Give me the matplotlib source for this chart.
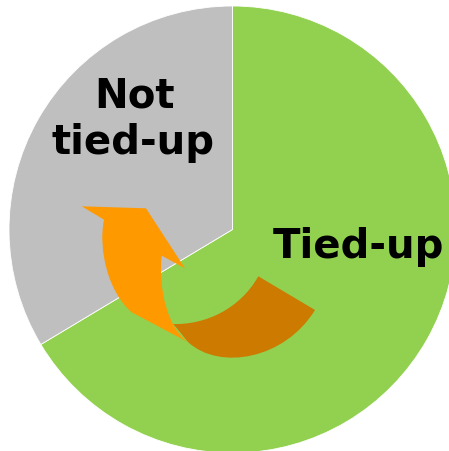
import matplotlib
matplotlib.use('Agg')
import matplotlib.pyplot as plt
from matplotlib.path import Path
from matplotlib.patches import PathPatch

# data
labels = ['Tied-up', 'Not tied-up']
shares = [66.4, 33.6]
colors = ['#92D050', '#BFBFBF']

W, H = 449, 452
cx, cy, r = 232.5, 230.5, 223.5   # pie centre / radius in pixels (y from top)


def px(x, y):
    # pixel coords (y down) -> data coords (y up)
    return (x, H - y)


fig = plt.figure(figsize=(W / 100, H / 100), dpi=100)
ax = fig.add_axes([0, 0, 1, 1])
ax.set_xlim(0, W)
ax.set_ylim(0, H)
ax.set_aspect('equal')
ax.axis('off')

ax.pie(shares, colors=colors, startangle=90, counterclock=False,
       center=px(cx, cy), radius=r,
       wedgeprops=dict(edgecolor='white', linewidth=0.6))
ax.set_xlim(0, W)
ax.set_ylim(0, H)

# curved arrow (decoration): darker back part first
M, L, C = Path.MOVETO, Path.LINETO, Path.CURVE4
dark_pts = [(173.3, 325), (205, 326), (240, 310), (258.3, 277.3),
            (315, 311), (285, 360), (220, 372), (188.3, 343.3),
            (173.3, 325)]
dark_codes = [M, C, C, C, L, C, C, C, L]
ax.add_patch(PathPatch(Path([px(*p) for p in dark_pts], dark_codes),
                       facecolor='#CC7A00', edgecolor='none'))

front_pts = [(104, 220.7), (81.7, 207.3), (146, 209.3), (185, 269.3),
             (161.7, 256.7), (158, 290), (168, 330), (188.3, 343.3),
             (131.7, 313.3), (108, 293), (98, 250), (104, 220.7)]
front_codes = [M, L, L, L, L, C, C, C, L, C, C, C]
ax.add_patch(PathPatch(Path([px(*p) for p in front_pts], front_codes),
                       facecolor='#FF9900', edgecolor='none'))

# labels
ax.text(*px(134.5, 107), 'Not', ha='center', va='baseline',
        fontsize=29, fontweight='bold', color='black')
ax.text(*px(132.5, 154), 'tied-up', ha='center', va='baseline',
        fontsize=29, fontweight='bold', color='black')
ax.text(*px(358.5, 258), 'Tied-up', ha='center', va='baseline',
        fontsize=29, fontweight='bold', color='black')

fig.savefig('out.png', dpi=100)
